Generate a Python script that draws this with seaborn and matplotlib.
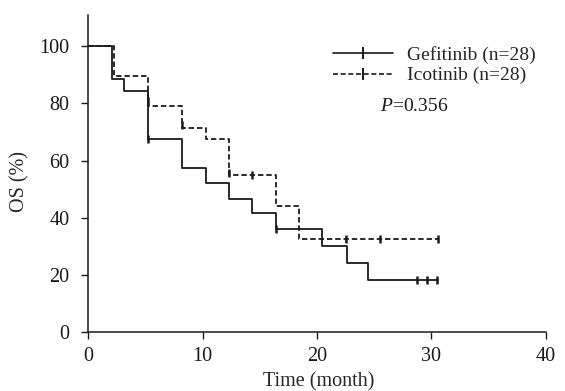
import matplotlib
matplotlib.use("Agg")
import matplotlib.pyplot as plt
from matplotlib.lines import Line2D
import seaborn as sns

# Gefitinib KM steps
gef_t = [0, 2.1, 3.1, 5.2, 8.2, 10.3, 12.3, 14.3, 16.4, 20.4, 22.6, 24.5, 30.6]
gef_s = [100, 88.5, 84.2, 67.7, 57.5, 52.3, 46.7, 41.7, 36.1, 30.2, 24.2, 18.2, 18.2]
gef_cens_t = [5.2, 16.4, 28.7, 29.6, 30.5]
gef_cens_s = [67.7, 36.1, 18.2, 18.2, 18.2]

# Icotinib KM steps
ico_t = [0, 2.3, 5.2, 8.2, 10.3, 12.3, 16.4, 18.4, 30.6]
ico_s = [100, 89.6, 79.0, 71.5, 67.4, 54.8, 44.0, 32.7, 32.7]
ico_cens_t = [5.2, 8.2, 12.3, 14.3, 22.5, 25.5, 30.6]
ico_cens_s = [81.0, 72.5, 55.5, 54.8, 32.7, 32.7, 32.7]

labels = ["Gefitinib (n=28)", "Icotinib (n=28)"]
xticks = [0, 10, 20, 30, 40]
yticks = [0, 20, 40, 60, 80, 100]

sns.set_style("ticks")
plt.rcParams['font.family'] = ['Liberation Serif', 'DejaVu Serif']
plt.rcParams['mathtext.fontset'] = 'custom'
plt.rcParams['mathtext.rm'] = 'Liberation Serif'
plt.rcParams['mathtext.it'] = 'Liberation Serif:italic'

fig = plt.figure(figsize=(5.65, 3.91), dpi=100)
ax = fig.add_axes([0.156, 0.151, 0.81, 0.811])

col = "#1a1a1a"
dash = (0, (3, 1.6))
sns.lineplot(x=gef_t, y=gef_s, drawstyle="steps-post", color=col, lw=1.3, ax=ax, estimator=None, sort=False)
sns.lineplot(x=ico_t, y=ico_s, drawstyle="steps-post", color=col, lw=1.3, ax=ax, estimator=None, sort=False, linestyle=dash)
sns.scatterplot(x=gef_cens_t, y=gef_cens_s, marker="|", s=40, color=col, linewidth=1.8, ax=ax)
sns.scatterplot(x=ico_cens_t, y=ico_cens_s, marker="|", s=40, color=col, linewidth=1.8, ax=ax)

ax.set_xlim(0, 40)
ax.set_ylim(0, 111)
ax.set_xticks(xticks)
ax.set_yticks(yticks)
ax.tick_params(direction="out", length=5, width=1, labelsize=14.5, colors=col, pad=6)
ax.tick_params(axis="y", pad=8.5)
sns.despine(ax=ax)
for s in ["left", "bottom"]:
    ax.spines[s].set_linewidth(1.1)
    ax.spines[s].set_color(col)
ax.set_xlabel("Time (month)", fontsize=14.5)
ax.set_ylabel("OS (%)", fontsize=14.5)
ax.xaxis.set_label_coords(0.504, -0.126)
ax.yaxis.set_label_coords(-0.128, 0.476)

handles = [
    Line2D([], [], color=col, lw=1.2, marker="|", markersize=8, markeredgewidth=1.4),
    Line2D([], [], color=col, lw=1.2, ls=dash, marker="|", markersize=8, markeredgewidth=1.4),
]
ax.legend(handles, labels, loc="upper left",
          bbox_to_anchor=(0.535, 0.902), frameon=False, fontsize=14, handlelength=3.1,
          numpoints=1, labelspacing=0.15, handletextpad=0.72, borderpad=0, borderaxespad=0)
ax.text(25.5, 79, "$P$=0.356", fontsize=14, ha="left", va="center", color=col)

fig.savefig("out.png", dpi=100)
